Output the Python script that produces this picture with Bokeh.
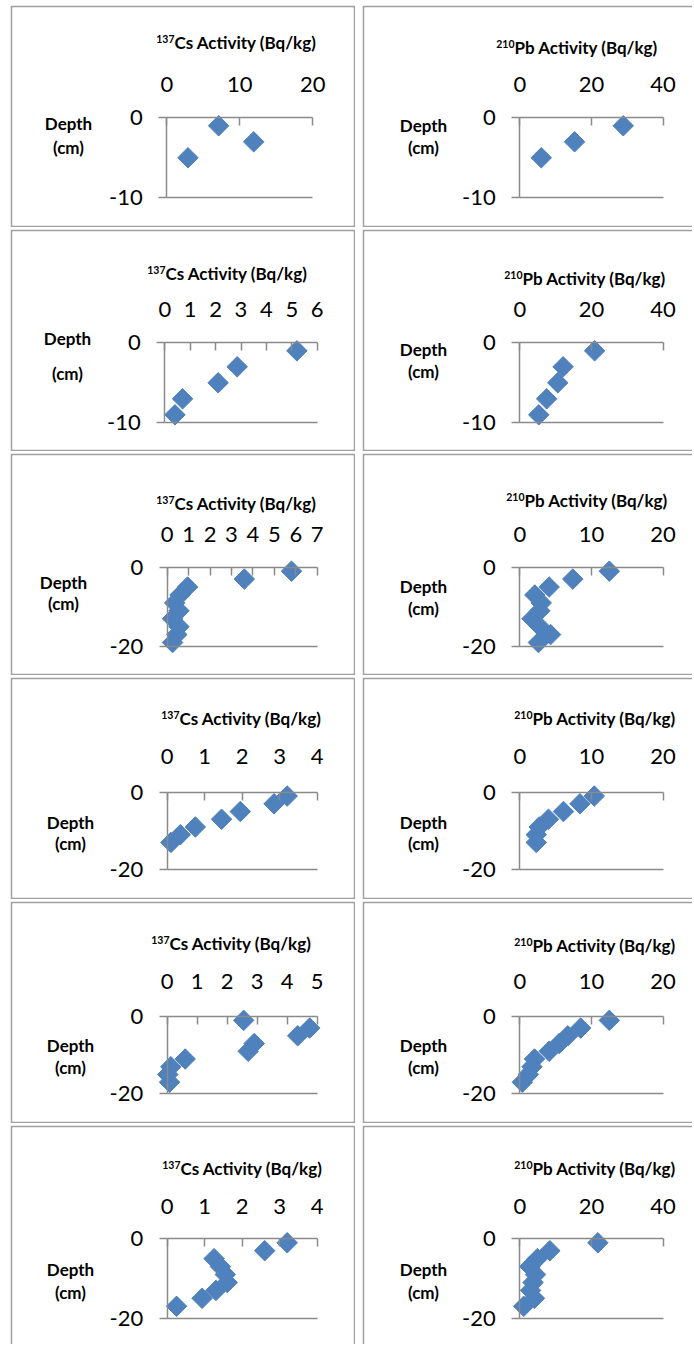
import numpy as np
from bokeh.plotting import figure
from bokeh.models import LinearAxis, FixedTicker, Label, Range1d, Spacer
from bokeh.layouts import row, column
from bokeh.embed import file_html
from bokeh.resources import INLINE

# ---------------- data ----------------
# row 1
depth_1 = [-1, -3, -5]
cs_1 = [7.1, 11.9, 2.9]
pb_1 = [28.9, 15.3, 6.0]
# row 2
depth_2 = [-1, -3, -5, -7, -9]
cs_2 = [5.2, 2.85, 2.1, 0.7, 0.4]
pb_2 = [20.9, 12.1, 10.6, 7.5, 5.3]
# row 3
depth_3 = [-1, -3, -5, -7, -9, -11, -13, -15, -17, -19]
cs_3 = [5.8, 3.6, 0.95, 0.6, 0.35, 0.55, 0.25, 0.55, 0.45, 0.25]
pb_3 = [12.5, 7.4, 4.1, 2.1, 3.0, 2.8, 1.7, 2.8, 4.3, 2.6]
# row 4
depth_4 = [-1, -3, -5, -7, -9, -11, -13]
cs_4 = [3.2, 2.85, 1.95, 1.45, 0.75, 0.35, 0.1]
pb_4 = [10.4, 8.4, 6.1, 4.0, 2.7, 2.3, 2.3]
# row 5
depth_5 = [-1, -3, -5, -7, -9, -11, -13, -15, -17]
cs_5 = [2.55, 4.75, 4.35, 2.9, 2.7, 0.6, 0.12, 0.02, 0.08]
pb_5 = [12.5, 8.5, 6.7, 5.5, 4.1, 2.05, 1.7, 1.2, 0.35]
# row 6
depth_6 = [-1, -3, -5, -7, -9, -11, -13, -15, -17]
cs_6 = [3.2, 2.6, 1.25, 1.42, 1.55, 1.6, 1.3, 0.93, 0.25]
pb_6 = [21.8, 8.4, 4.9, 2.8, 4.4, 3.7, 3.0, 4.1, 1.1]

depths = [depth_1, depth_2, depth_3, depth_4, depth_5, depth_6]
cs_values = [cs_1, cs_2, cs_3, cs_4, cs_5, cs_6]
pb_values = [pb_1, pb_2, pb_3, pb_4, pb_5, pb_6]

# tick labels
cs_ticks = [[0, 10, 20], [0, 1, 2, 3, 4, 5, 6], [0, 1, 2, 3, 4, 5, 6, 7],
            [0, 1, 2, 3, 4], [0, 1, 2, 3, 4, 5], [0, 1, 2, 3, 4]]
pb_ticks = [[0, 20, 40], [0, 20, 40], [0, 10, 20],
            [0, 10, 20], [0, 10, 20], [0, 20, 40]]
depth_ticks = [[-10, 0], [-10, 0], [-20, 0], [-20, 0], [-20, 0], [-20, 0]]

cs_title = ("137", "Cs Activity (Bq/kg)")
pb_title = ("210", "Pb Activity (Bq/kg)")
depth_label = ("Depth", "(cm)")

# ---------------- layout (page pixel positions) ----------------
FONT = "Lato"
BORDER = "#a0a0a0"
AXIS = "#8a8a8a"
MARK = "#4F81BD"
BW = 2

col_left = [10, 362]
col_right = [355, 692]
row_top = [5, 229, 453, 677, 901, 1125]
row_bot = [227, 451, 675, 899, 1123, 1344]

# plot-area positions
pl = [[166.3, 164.3, 166.7, 166.7, 166.7, 166.7], [519.3] * 6]
pr = [[312.3, 316.7, 316.7, 316.7, 316.7, 316.7], [662.5] * 6]
pt = [117.3, 342.3, 566.7, 791.7, 1016, 1238.3]
pbm = [197.3, 422.3, 646, 869, 1093.3, 1317.7]
x_label_gap = [26, 26, 25, 28, 28, 25]

# title (left x, center y)
title_pos = [[(157, 42), (497, 47)], [(148, 273), (505, 278)], [(157, 503), (507, 500)],
             [(162, 718), (515, 718)], [(152, 943), (515, 945)], [(163, 1168), (515, 1168)]]
# depth label centers (x, y of "Depth", y of "(cm)")
depth_pos = [[(68, 123, 147), (423, 125, 147)], [(67, 338, 373), (423, 349, 371)],
             [(63, 582, 603), (423, 586, 608)], [(70, 822, 843), (423, 822, 843)],
             [(70, 1045, 1067), (423, 1045, 1067)], [(70, 1269, 1292), (423, 1269, 1292)]]


def make_cell(r, c, xs, ys, xt, yt, title):
    cl, cr = col_left[c], col_right[c]
    ct, cb = row_top[r], row_bot[r]
    w, h = cr - cl, cb - ct
    bl, bt = BW, BW
    br = BW if c == 0 else 0
    bb = BW if r < 5 else 0
    fl, ft = cl + bl, ct + bt
    fw, fh = w - bl - br, h - bt - bb
    xmax, ymin = xt[-1], yt[0]
    sx = (pr[c][r] - pl[c][r]) / xmax
    x0 = -(pl[c][r] - fl) / sx
    x1 = x0 + fw / sx
    sy = (pbm[r] - pt[r]) / (-ymin)
    y1 = (pt[r] - ft) / sy
    y0 = y1 - fh / sy

    def dx(px):
        return x0 + (px - fl) / sx

    def dy(py):
        return y1 - (py - ft) / sy

    p = figure(width=w, height=h, x_range=Range1d(x0, x1), y_range=Range1d(y0, y1),
               x_axis_type=None, y_axis_type=None, title=None, toolbar_location=None,
               output_backend="svg", min_border_left=bl, min_border_right=br,
               min_border_top=bt, min_border_bottom=bb, border_fill_color=BORDER,
               background_fill_color="white", outline_line_color=None)

    common = dict(axis_line_color=AXIS, axis_line_width=1.5, major_tick_line_color=AXIS,
                  major_tick_line_width=1.5, minor_tick_line_color=None,
                  major_label_text_font=FONT, major_label_text_font_size="22px",
                  major_label_text_color="#000000")
    xa = LinearAxis(fixed_location=0, bounds=(0, xmax), ticker=FixedTicker(ticks=xt),
                    major_label_overrides={t: str(t) for t in xt},
                    major_tick_in=8, major_tick_out=0,
                    major_label_standoff=x_label_gap[r], **common)
    p.add_layout(xa, "above")
    ya = LinearAxis(fixed_location=0, bounds=(ymin, 0), ticker=FixedTicker(ticks=yt),
                    major_label_overrides={t: str(t) for t in yt},
                    major_tick_in=0, major_tick_out=8, major_label_standoff=16, **common)
    p.add_layout(ya, "left")
    ga = LinearAxis(fixed_location=ymin, bounds=(0, xmax), ticker=FixedTicker(ticks=[]),
                    axis_line_color=AXIS, axis_line_width=1.5, major_tick_line_color=None,
                    minor_tick_line_color=None, major_label_text_font_size="0px")
    p.add_layout(ga, "below")

    p.scatter(x=xs, y=ys, marker="square", angle=np.pi / 4, size=14.5,
              fill_color=MARK, line_color=MARK)

    tx, ty = title_pos[r][c]
    sup, main = title
    split = tx + 17
    p.add_layout(Label(x=dx(split), y=dy(ty), text=main, text_font=FONT,
                       text_font_style="bold", text_font_size="17px", text_color="#000000",
                       text_align="left", text_baseline="middle"))
    p.add_layout(Label(x=dx(split), y=dy(ty - 4), text=sup, text_font=FONT,
                       text_font_style="bold", text_font_size="10.5px", text_color="#000000",
                       text_align="right", text_baseline="middle"))
    lx, ly1, ly2 = depth_pos[r][c]
    for txt, yy in zip(depth_label, (ly1, ly2)):
        p.add_layout(Label(x=dx(lx), y=dy(yy), text=txt, text_font=FONT,
                           text_font_style="bold", text_font_size="17px",
                           text_color="#000000", text_align="center",
                           text_baseline="middle"))
    return p


rows = []
for r in range(6):
    fc = make_cell(r, 0, cs_values[r], depths[r], cs_ticks[r], depth_ticks[r], cs_title)
    fp = make_cell(r, 1, pb_values[r], depths[r], pb_ticks[r], depth_ticks[r], pb_title)
    gap = col_left[1] - col_right[0]
    rows.append(row(Spacer(width=col_left[0], height=10), fc, Spacer(width=gap, height=10), fp))
    if r < 5:
        rows.append(Spacer(width=10, height=row_top[r + 1] - row_bot[r]))

page = column(Spacer(width=10, height=row_top[0]), *rows)
open("out.html", "w").write(file_html(page, INLINE))
